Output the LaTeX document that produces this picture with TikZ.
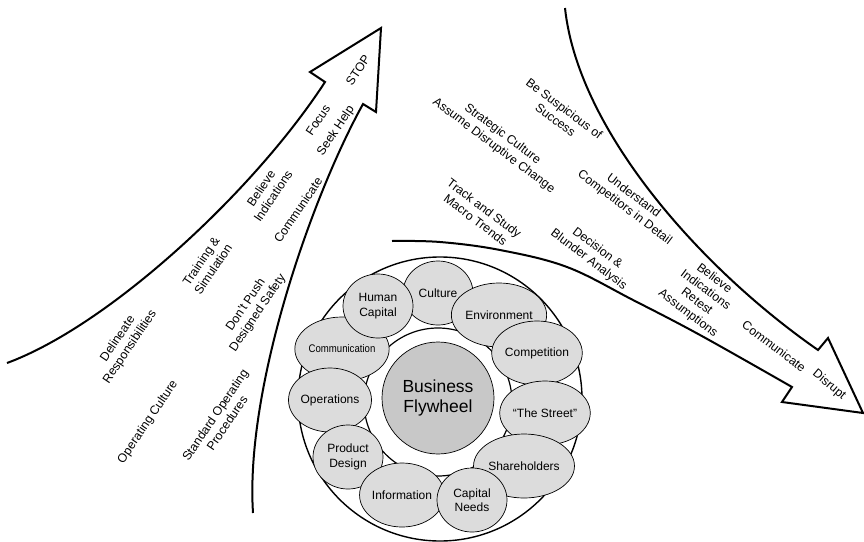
\documentclass[tikz,border=0pt]{standalone}
\usepackage{fontspec}
\usepackage{graphicx}
\setmainfont{Liberation Sans}
\usetikzlibrary{shapes.geometric}
\definecolor{ringgray}{RGB}{220,220,220}
\definecolor{hubgray}{RGB}{200,200,200}
\tikzset{
  bigarrow/.style={draw=black, line width=2pt, fill=white, line join=miter},
  lbl/.style={font=\fontsize{12.3}{14.5}\selectfont, align=center, inner sep=0pt},
  spoke/.style={ellipse, draw=black, line width=0.7pt, fill=ringgray,
    minimum width=70pt, minimum height=64pt, inner sep=0pt, align=center,
    font=\fontsize{12}{14.5}\selectfont},
  ringline/.style={draw=black, line width=1.4pt, fill=white},
}
\begin{document}
\begin{tikzpicture}[x=1pt,y=-1pt]
\useasboundingbox (0,0) rectangle (864,541);

% rising arrow on the left (operating culture)
\draw[bigarrow]
  (7,363) .. controls (110,325) and (255,190) .. (325,82)
  -- (310,72) -- (381,28) -- (376,112) -- (363,104)
  .. controls (310,200) and (245,390) .. (253,513);

% falling arrow on the right (strategic culture)
\draw[bigarrow]
  (565,8) .. controls (578,130) and (700,268) .. (818,350)
  -- (828,338) -- (863,413) -- (782,402) -- (792,387)
  -- plot[smooth, tension=0.6] coordinates {(792,387) (700,335) (633,300) (567,267) (500,250) (440,242) (392,241)};

% flywheel: outer ring, inner ring and hub
\node[circle, ringline, minimum size=284pt, inner sep=0pt] (outer) at (440,399) {};
\node[circle, draw=black, line width=1.2pt, fill=white, minimum size=148pt, inner sep=0pt] (inner) at (438,402) {};
\node[circle, draw=black, line width=0.7pt, fill=hubgray, minimum size=112pt, inner sep=0pt,
      align=center, font=\fontsize{17.5}{20.5}\selectfont] (hub) at (438,398) {Business\\Flywheel};

% the eleven forces around the hub
\node[spoke] (comm)  at (342,349) {\scalebox{0.8}[0.92]{Communication}};
\node[spoke] (cult)  at (438,293) {Culture};
\node[spoke] (human) at (378,306) {Human\\Capital};
\node[spoke] (env)   at (499,315) {Environment};
\node[spoke] (comp)  at (537,353) {Competition};
\node[spoke] (ops)   at (330,400) {Operations};
\node[spoke] (street) at (545,413) {``The Street''};
\node[spoke] (prod)  at (348,457) {Product\\Design};
\node[spoke] (share) at (524,466) {Shareholders};
\node[spoke] (info)  at (402,495) {Information};
\node[spoke] (cap)   at (472,500) {Capital\\Needs};

% labels along the rising arrow
\node[lbl, rotate=56] (l1)  at (124,343) {Delineate\\Responsibilities};
\node[lbl, rotate=56] (l2)  at (148,422) {Operating Culture};
\node[lbl, rotate=56] (l3)  at (207,265) {Training \&\\Simulation};
\node[lbl, rotate=56] (l4)  at (252,309) {Don't Push\\Designed Safety};
\node[lbl, rotate=56] (l5)  at (221,419) {Standard Operating\\Procedures};
\node[lbl, rotate=56] (l6)  at (267,192) {Believe\\Indications};
\node[lbl, rotate=56] (l7)  at (298,210) {Communicate};
\node[lbl, rotate=56] (l8)  at (318,120) {Focus};
\node[lbl, rotate=56] (l9)  at (336,131) {Seek Help};
\node[lbl, rotate=56] (l10) at (358,70)  {STOP};

% labels along the falling arrow
\node[lbl, rotate=-37] (r1) at (560,114) {Be Suspicious of\\Success};
\node[lbl, rotate=-37] (r2) at (498,140) {Strategic Culture\\Assume Disruptive Change};
\node[lbl, rotate=-37] (r3) at (629,202) {Understand\\Competitors in Detail};
\node[lbl, rotate=-37] (r4) at (480,214) {Track and Study\\Macro Trends};
\node[lbl, rotate=-37] (r5) at (593,254) {Decision \&\\Blunder Analysis};
\node[lbl, rotate=-37] (r6) at (701,296) {Believe\\Indications\\Retest\\Assumptions};
\node[lbl, rotate=-37] (r7) at (774,346) {Communicate};
\node[lbl, rotate=-40] (r8) at (829,385) {Disrupt};
\end{tikzpicture}
\end{document}
